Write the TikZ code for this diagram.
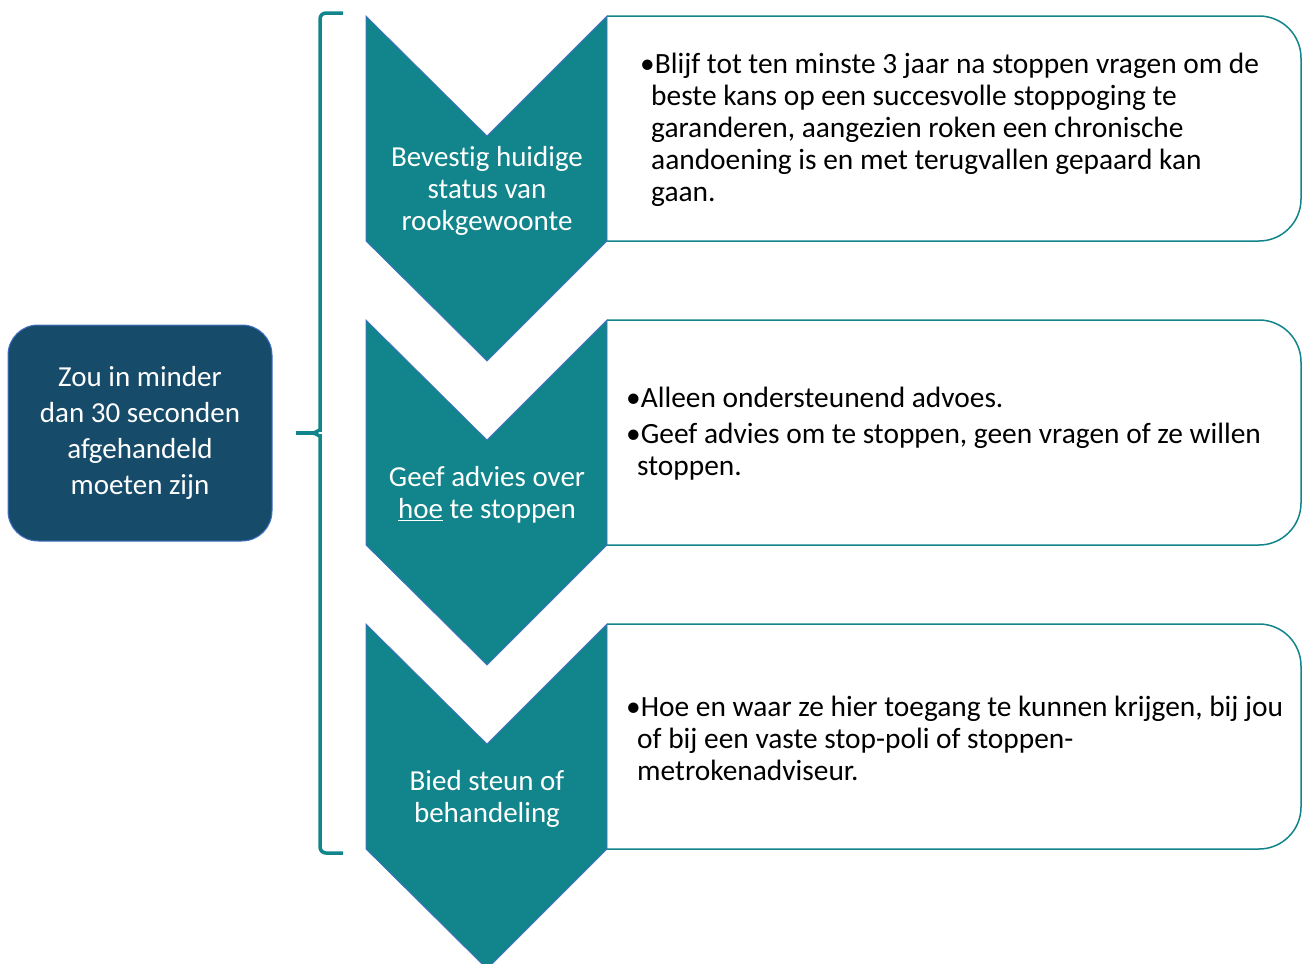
\documentclass[tikz,border=0pt]{standalone}
\usepackage{fontspec}
\setmainfont{Carlito}[Ligatures={NoCommon,NoContextual,NoRequired}, Contextuals=NoAlternate]
\definecolor{tealfill}{RGB}{17,133,139}
\definecolor{navyfill}{RGB}{23,75,106}
\definecolor{edgeblue}{RGB}{68,114,196}
\newcommand{\hang}{\hspace*{11pt}}
\tikzstyle{chevron} = [fill=tealfill, draw=edgeblue, line width=0.8pt]
\tikzstyle{infobox} = [fill=white, draw=tealfill, line width=1.5pt, rounded corners=42pt]
\tikzstyle{chevtext} = [text=white, align=center, inner sep=0pt, font=\fontsize{29}{32}\selectfont]
\tikzstyle{infotext} = [anchor=west, inner sep=0pt, align=left, font=\fontsize{29.4}{32}\selectfont]
\tikzstyle{goalbox} = [fill=navyfill, draw=edgeblue, line width=1pt, rounded corners=30pt,
    minimum width=264pt, minimum height=216pt, text=white, align=center,
    font=\fontsize{29}{36}\selectfont]
\tikzstyle{bracket} = [draw=tealfill, line width=3.5pt, rounded corners=6pt]

\begin{document}
\begin{tikzpicture}[x=1pt, y=-1pt]
        \useasboundingbox (0,0) rectangle (1302,964);

        % Goal block
        \node (goal) at (140,433) [goalbox] {Zou in minder\\dan 30 seconden\\afgehandeld\\moeten zijn};

        % Bracket
        \coordinate (bracetip) at (296,433);
        \draw [bracket] (343,13) -- (320,13) -- (320,424) to[out=-90,in=0] (312,433);
        \draw [bracket] (343,853) -- (320,853) -- (320,442) to[out=90,in=0] (312,433);
        \draw [bracket] (314,433) -- (bracetip);

        % Info boxes
        \draw [infobox] (607,16) -- (1301,16) -- (1301,241) -- (607,241);
        \draw [infobox] (607,320) -- (1301,320) -- (1301,545) -- (607,545);
        \draw [infobox] (607,624) -- (1301,624) -- (1301,849) -- (607,849);

        % Chevrons
        \draw [chevron] (366,16) -- (487,136) -- (607,16) -- (607,241) -- (487,361) -- (366,241) -- cycle;
        \draw [chevron] (366,320) -- (487,440) -- (607,320) -- (607,545) -- (487,665) -- (366,545) -- cycle;
        \draw [chevron] (366,624) -- (487,744) -- (607,624) -- (607,849) -- (487,969) -- (366,849) -- cycle;

        % Text in chevrons
        \node (stepone) at (487,191) [chevtext] {Bevestig huidige\\status van\\rookgewoonte};
        \node (steptwo) at (487,495) [chevtext] {Geef advies over\\\underline{hoe} te stoppen};
        \node (stepthree) at (487,799) [chevtext] {Bied steun of\\behandeling};

        % Text in boxes
        \node (infoone) at (640,130) [infotext] {•Blijf tot ten minste 3 jaar na stoppen vragen om de\\\hang beste kans op een succesvolle stoppoging te\\\hang garanderen, aangezien roken een chronische\\\hang aandoening is en met terugvallen gepaard kan\\\hang gaan.};
        \node (infotwo) at (626,434) [infotext] {•Alleen ondersteunend advoes.\\[4pt]•Geef advies om te stoppen, geen vragen of ze willen\\\hang stoppen.};
        \node (infothree) at (626,738) [infotext] {•Hoe en waar ze hier toegang te kunnen krijgen, bij jou\\\hang of bij een vaste stop-poli of stoppen-\\\hang metrokenadviseur.};
    \end{tikzpicture}
\end{document}
